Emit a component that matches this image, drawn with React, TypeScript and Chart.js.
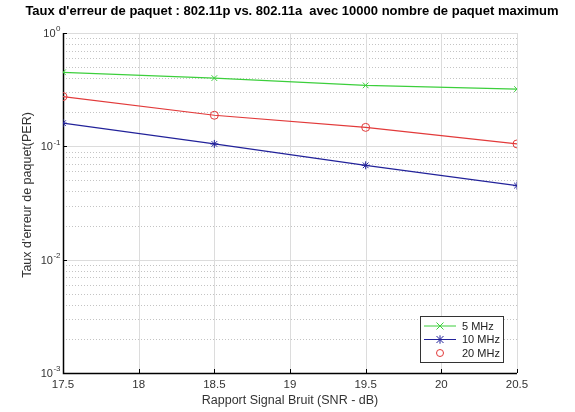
import React, { useEffect, useRef } from "react";
import { Chart, registerables } from "chart.js";

Chart.register(...registerables);

const snr = [17.5, 18.5, 19.5, 20.5];
const per5 = [0.45, 0.4, 0.345, 0.32];
const per10 = [0.16, 0.105, 0.068, 0.045];
const per20 = [0.275, 0.188, 0.147, 0.105];
const xTicks = [17.5, 18, 18.5, 19, 19.5, 20, 20.5];
const yExponents = [0, -1, -2, -3];
const seriesNames = ["5 MHz", "10 MHz", "20 MHz"];
const titleText = "Taux d'erreur de paquet : 802.11p vs. 802.11a  avec 10000 nombre de paquet maximum";
const xTitle = "Rapport Signal Bruit (SNR - dB)";
const yTitle = "Taux d'erreur de paquet(PER)";

const colors = ["#3ccf3c", "#22229a", "#e23a3a"];
const styles: string[] = ["crossRot", "star", "circle"];
const FONT = "'Liberation Sans', Arial, sans-serif";

function drawMarker(ctx: CanvasRenderingContext2D, style: string, x: number, y: number, r: number) {
  ctx.beginPath();
  if (style === "circle") {
    ctx.arc(x, y, r, 0, Math.PI * 2);
  } else {
    ctx.moveTo(x - r, y - r); ctx.lineTo(x + r, y + r);
    ctx.moveTo(x - r, y + r); ctx.lineTo(x + r, y - r);
    if (style === "star") { ctx.moveTo(x, y - r * 1.2); ctx.lineTo(x, y + r * 1.2); }
  }
  ctx.stroke();
}

const decorPlugin = {
  id: "decor",
  beforeDatasetsDraw(chart: any) {
    const { ctx, chartArea: a, scales } = chart;
    const xs = scales.x, ys = scales.y;
    ctx.save();
    ctx.strokeStyle = "#c4c4c4";
    ctx.lineWidth = 1;
    ctx.setLineDash([1, 2]);
    for (let d = -3; d < 0; d++) {
      for (let k = 2; k <= 9; k++) {
        const y = Math.round(ys.getPixelForValue(k * Math.pow(10, d))) + 0.5;
        ctx.beginPath();
        ctx.moveTo(a.left, y);
        ctx.lineTo(a.right, y);
        ctx.stroke();
      }
    }
    ctx.setLineDash([]);
    ctx.strokeStyle = "#dcdcdc";
    for (const e of yExponents) {
      const y = Math.round(ys.getPixelForValue(Math.pow(10, e))) + 0.5;
      ctx.beginPath();
      ctx.moveTo(a.left, y);
      ctx.lineTo(a.right, y);
      ctx.stroke();
    }
    for (const v of xTicks) {
      const x = Math.round(xs.getPixelForValue(v)) + 0.5;
      ctx.beginPath();
      ctx.moveTo(x, a.top);
      ctx.lineTo(x, a.bottom);
      ctx.stroke();
    }
    ctx.strokeStyle = "#000";
    ctx.lineWidth = 1.5;
    ctx.beginPath();
    ctx.moveTo(a.left + 0.5, a.top);
    ctx.lineTo(a.left + 0.5, a.bottom + 0.5);
    ctx.lineTo(a.right, a.bottom + 0.5);
    ctx.stroke();
    ctx.lineWidth = 1;
    for (const v of xTicks) {
      const x = Math.round(xs.getPixelForValue(v)) + 0.5;
      ctx.beginPath();
      ctx.moveTo(x, a.bottom);
      ctx.lineTo(x, a.bottom - 4);
      ctx.stroke();
    }
    for (const e of yExponents) {
      const y = Math.round(ys.getPixelForValue(Math.pow(10, e))) + 0.5;
      ctx.beginPath();
      ctx.moveTo(a.left, y);
      ctx.lineTo(a.left + 4, y);
      ctx.stroke();
    }
    ctx.restore();
  },
  afterDraw(chart: any) {
    const { ctx, chartArea: a, scales } = chart;
    const ys = scales.y;
    ctx.save();
    ctx.fillStyle = "#000";
    ctx.font = `bold 13px ${FONT}`;
    ctx.textAlign = "center";
    ctx.textBaseline = "middle";
    ctx.fillText(titleText, 292, 11);
    ctx.fillStyle = "#333";
    for (const e of yExponents) {
      const y = ys.getPixelForValue(Math.pow(10, e));
      const base = "10";
      const ex = String(e);
      ctx.font = `11px ${FONT}`;
      const w1 = ctx.measureText(base).width;
      ctx.font = `8px ${FONT}`;
      const w2 = ctx.measureText(ex).width;
      const right = a.left - 3;
      const x0 = right - w1 - w2;
      ctx.textAlign = "left";
      ctx.textBaseline = "middle";
      ctx.font = `11px ${FONT}`;
      ctx.fillText(base, x0, y + 1);
      ctx.font = `8px ${FONT}`;
      ctx.fillText(ex, x0 + w1 + 0.5, y - 4);
    }
    ctx.font = `12.5px ${FONT}`;
    ctx.fillStyle = "#333";
    ctx.textAlign = "center";
    ctx.textBaseline = "middle";
    ctx.fillText(xTitle, (a.left + a.right) / 2, 401);
    ctx.save();
    ctx.translate(28, 195);
    ctx.rotate(-Math.PI / 2);
    ctx.fillText(yTitle, 0, 0);
    ctx.restore();
    // legend
    const lx = 420, ly = 316, lw = 83, lh = 46;
    ctx.fillStyle = "#fff";
    ctx.fillRect(lx, ly, lw, lh);
    ctx.strokeStyle = "#333";
    ctx.lineWidth = 1;
    ctx.strokeRect(lx + 0.5, ly + 0.5, lw, lh);
    chart.data.datasets.forEach((ds: any, i: number) => {
      const y = ly + 10 + i * 13.5;
      ctx.strokeStyle = ds.borderColor;
      ctx.lineWidth = 1;
      if (i < 2) {
        ctx.beginPath();
        ctx.moveTo(lx + 4, y);
        ctx.lineTo(lx + 36, y);
        ctx.stroke();
      }
      drawMarker(ctx, ds.pointStyle, lx + 20, y, 3.5);
      ctx.fillStyle = "#222";
      ctx.font = `11px ${FONT}`;
      ctx.textAlign = "left";
      ctx.textBaseline = "middle";
      ctx.fillText(ds.label, lx + 42, y + 0.5);
    });
    ctx.restore();
  },
};

export default function App() {
  const ref = useRef<HTMLCanvasElement>(null);
  useEffect(() => {
    document.body.style.margin = "0";
    const datasets = [per5, per10, per20].map((d, i) => ({
      label: seriesNames[i],
      data: snr.map((x, j) => ({ x, y: d[j] })),
      borderColor: colors[i],
      backgroundColor: "rgba(0,0,0,0)",
      borderWidth: 1.2,
      pointStyle: styles[i],
      pointRadius: 4,
      pointBorderWidth: 1,
      pointBorderColor: colors[i],
      pointBackgroundColor: "rgba(0,0,0,0)",
      tension: 0,
    }));
    const chart = new Chart(ref.current!, {
      type: "line",
      data: { datasets },
      plugins: [decorPlugin],
      options: {
        animation: false,
        responsive: false,
        devicePixelRatio: 1,
        layout: { padding: { left: 0, top: 33, right: 58, bottom: 0 } },
        plugins: { legend: { display: false }, title: { display: false }, tooltip: { enabled: false } },
        scales: {
          x: {
            type: "linear",
            min: 17.5,
            max: 20.5,
            grid: { display: false, drawTicks: false },
            border: { display: false },
            ticks: {
              stepSize: 0.5, padding: 5, color: "#333",
              font: { size: 11.5, family: FONT }, maxRotation: 0, autoSkip: false,
              callback: (v: any) => String(v),
            },
            afterFit: (s: any) => { s.height = 39; },
          },
          y: {
            type: "logarithmic",
            min: 0.001,
            max: 1,
            grid: { display: false, drawTicks: false },
            border: { display: false },
            ticks: { display: false },
            afterFit: (s: any) => { s.width = 63; },
          },
        },
      } as any,
    });
    return () => chart.destroy();
  }, []);
  return (
    <div style={{ position: "absolute", left: 0, top: 0, width: 575, height: 412, background: "#fff" }}>
      <canvas ref={ref} width={575} height={412} style={{ width: 575, height: 412 }} />
    </div>
  );
}
